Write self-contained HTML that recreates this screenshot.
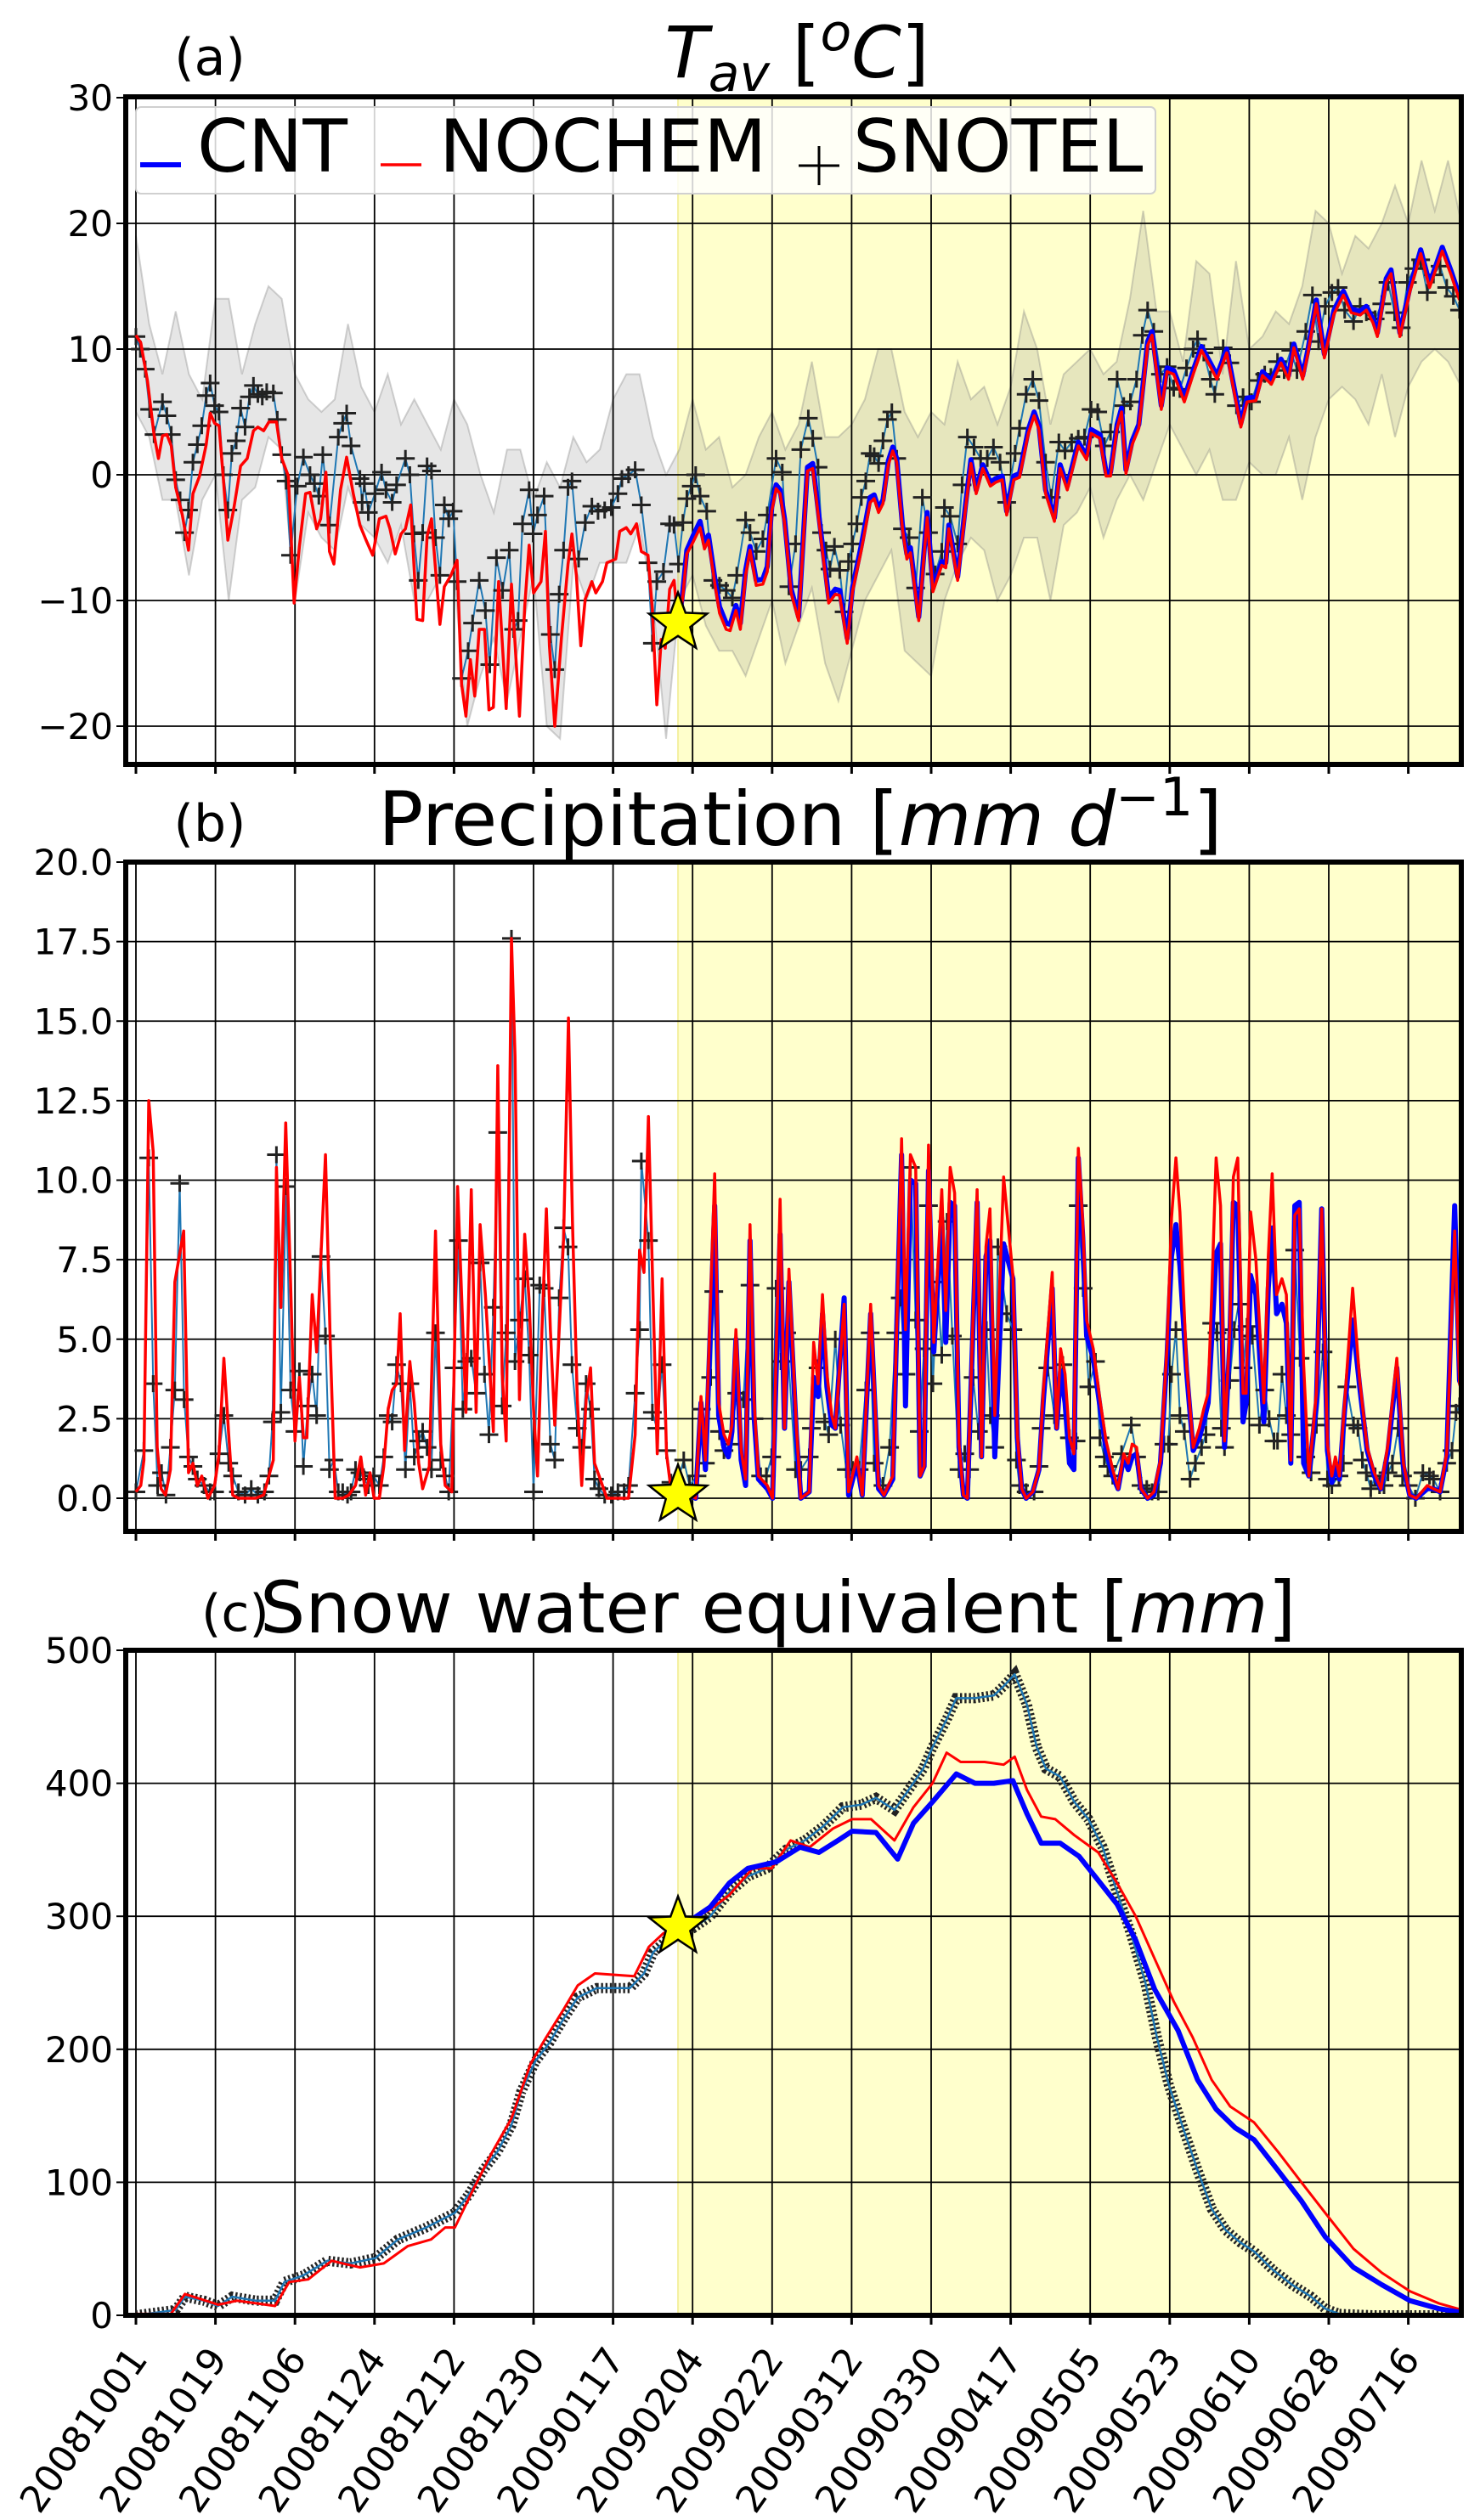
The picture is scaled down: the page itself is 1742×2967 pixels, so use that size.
<!DOCTYPE html>
<html><head><meta charset="utf-8"><style>
html,body{margin:0;padding:0;background:#fff;}
svg{display:block;font-family:"DejaVu Sans","Liberation Sans",sans-serif;}
</style></head><body>
<svg id="fig" xmlns="http://www.w3.org/2000/svg" width="1742" height="2967" viewBox="0 0 1742 2967"></svg>
<script>
// ---------- data (day index since 2008-10-01) ----------
const tickDays = [0,18,36,54,72,90,108,126,144,162,180,198,216,234,252,270,288];
const tickLabels = ["20081001","20081019","20081106","20081124","20081212","20081230","20090117","20090204","20090222","20090312","20090330","20090417","20090505","20090523","20090610","20090628","20090716"];
const shadeStartDay = 122.7;
const starDay = 122.7;
const starT = -11.8, starP = 0.1, starSWE = 292;

const tTicks = [30,20,10,0,-10,-20];
const pTicks = [20,17.5,15,12.5,10,7.5,5,2.5,0];
const sTicks = [500,400,300,200,100,0];

// T SNOTEL
const tSnoDay = [0,1,2.1,3.1,4.1,6,7,8,9,10,11,11.9,12.9,13.9,14.9,15.9,16.8,17.8,18.8,19.8,20.8,21.7,22.7,23.7,24.7,25.7,26.6,27.6,28.6,29.6,31.1,32,33,34,35,36.5,37.9,39.4,40.4,41.4,42.3,43.8,45.8,46.8,47.7,48.7,50.7,51.2,51.7,52.6,54.1,55.6,56.6,58,59,61,62,62.9,63.9,64.9,65.9,66.9,67.8,68.8,69.8,70.8,71.8,72.7,73.7,75.2,76.2,77.7,79.1,80.1,81.6,83,84.5,85.5,86.5,87.5,89,89.9,90.9,92.4,93.8,94.8,95.8,96.8,97.8,98.7,100.2,101.7,103.2,104.6,106.1,107.6,109.1,110,111.5,113,114.4,115.9,116.9,117.9,119.4,120.8,121.8,122.8,123.8,124.7,125.7,126.7,127.7,129.2,130.6,132.1,133.6,135,136,138,139,140.4,141.9,142.9,144.9,146.3,147.8,149.3,150.5,152.2,153.2,154.4,155.2,156.2,157.1,158.1,159.3,160.3,161.3,162.2,163.2,164.2,165.2,166.2,167.1,168.1,169.1,170.1,171.1,172.2,173.5,175,176.5,178,179.4,180.9,182.4,183,184.3,186,187,188.2,189.7,191.2,192.7,194.1,195.6,197.1,199,200,201.5,203,204.4,205.9,207.2,208.9,210.3,211.8,213.3,214.7,216.2,217.7,219.2,220.6,222.1,223.6,225.1,226.5,227.8,229,230.4,231.9,233.4,234.9,236.3,237.8,239.3,240.3,241.7,243.2,244.2,246.1,247.6,249.1,250.6,252.5,254,255.5,256.9,258.4,259.9,261.4,262.8,264.8,266.3,267.7,269.2,270.7,272.1,273.6,275.6,277.1,278.5,280.5,282,283.4,284.9,286.4,287.8,289.3,290.8,292.3,293.7,295.2,296.7,298.2,299.6];
const tSnoVal = [11,10,8.4,5.2,3.2,5.8,4.7,3.2,-0.4,-2,-4.6,-2.8,1,2.4,3.9,6.3,7.3,5.5,5,0,-2.8,1.7,2.7,5.3,3.8,6.2,7.1,6.4,6.2,6.6,6.5,4.4,1.6,-0.5,-6.4,-0.9,1.4,0,-0.7,-1.7,1.6,-4,3,4.1,4.9,2.3,-0.3,-2.2,-0.7,-3,-1.5,0.2,-1.2,-2.2,-0.8,1.3,0,-4.7,-8.4,-4.6,0.7,0.3,-5,-8,-2.4,-3.5,-2.9,-8.5,-16.2,-14,-11.8,-8.4,-10.8,-15.1,-6.6,-9.2,-6,-12.3,-11.6,-3.9,-1.2,-4.7,-3.2,-1.7,-12.7,-15.5,-9.5,-6,-1,-0.5,-6.7,-3.8,-2.5,-2.9,-2.8,-2.6,-1.5,-0.3,0,0.4,-2.4,-7,-13.4,-8.5,-7.7,-3.9,-4,-7.1,-3.8,-1.9,-0.9,0,-1.7,-2.9,-8.4,-8.8,-9.2,-9.8,-8,-3.6,-4.6,-6.1,-5.1,-3.2,1.3,0.2,-8.9,-5.5,2,4.5,2.9,0.6,-4.6,-6,-7.5,-5.7,-7.6,-10.9,-6.9,-5.5,-3.9,-1.8,-0.5,1.7,1.5,0.9,2.7,4.4,5,1.3,-4.3,-5,-9,-1.8,-4.6,-7.9,-6.1,-2.6,-3.3,-5.5,-0.8,3,2.2,1.3,1.3,2.2,1,-2.2,1.7,3.7,6.4,7.6,5.9,1,-1.8,2.6,1.9,2.6,2.9,3,5.2,5,2.3,3.4,7.6,5.5,5.8,7.6,11.1,13.1,11.4,8,8.6,6.9,6.8,8.5,10,10.8,9.7,7.6,6.4,10.1,8.9,5.5,6.2,5.8,7.5,8,7.8,9,8.3,9.9,8.3,11.4,14.3,10.6,13.4,14.5,14.9,13.1,12.2,13.4,12.9,12.4,13.6,15.3,12.9,11.7,15.3,16.4,17.1,14.5,15.9,16.6,14.9,14.2,13.1];

// T NOCHEM (red)
const tNoDay = [0,1.1,2.6,4.1,5.1,6,7,8,9,10.5,11.9,12.9,14.4,15.9,16.8,17.8,18.8,19.8,20.8,22.2,23.7,25.2,26.6,27.6,28.9,30.1,31.8,33,34.5,35.8,37,38.4,39.4,40.9,41.8,43,43.8,44.8,46.3,47.7,49.2,50.7,52.1,53.6,55.1,56.6,57.5,58.7,60,61,62.2,63.6,64.9,65.9,66.9,68.8,69.8,71.3,72.7,73.7,74.7,75.7,76.7,77.7,78.9,79.9,80.9,82.1,83.8,85,86.8,88,89,90,91.7,92.7,93.6,94.8,96.3,97.8,98.7,99.7,100.7,101.7,103.2,104.1,105.6,106.6,108.6,109.5,111,112,113.3,114.4,115.9,116.9,117.9,118.9,119.8,120.8,121.8,122.8,123.8,124.7,126.2,127.7,128.7,129.6,131.1,132.1,133.6,134.5,135.8,136.8,138,139,140.4,141.9,142.9,143.9,144.9,145.8,146.8,148.3,150,152,153.2,154.9,156.8,158.3,159.3,161,162.2,164.2,166.2,167.1,168.1,169.1,170.3,171.3,172.2,173.5,174.5,175.3,177.2,179.1,180.4,182.4,183.3,184,186,187.8,189,190.2,191.7,193.4,194.6,196.1,197.1,198.7,200,202,203.3,204.4,205.9,207.9,209.2,210.8,213.3,215.2,216.2,218.2,219.6,220.6,222.1,223.1,224.1,225.5,227,229,230,232.1,233.4,234.9,237.3,239.3,241.2,243.2,244.7,246.9,248.1,250.1,251.5,253.5,255,257,259.2,260.9,262.1,264.1,265.3,267.2,269,271.2,273.3,275.1,277.1,278.5,280,281,283,284.1,286.1,288.3,290.8,292.8,295.7,297.7,299.6];
const tNoVal = [11.1,10.5,7.5,3.2,1.3,3.1,3.2,2.3,-1,-3.2,-6,-1.5,-0.1,2.4,4.9,4.1,3.9,-0.4,-5.2,-2.6,0.7,1.3,3.5,3.8,3.5,4.2,4.2,1.3,-0.1,-10.2,-5.7,-1.5,-1.4,-4.3,-3.5,0.2,-6.1,-7.1,-1.2,1.4,-1.5,-4,-5.2,-6.4,-3.5,-3.3,-4.3,-6.3,-4.7,-4.3,-2.4,-11.5,-11.6,-4.9,-3.5,-11.9,-8.9,-8,-6.8,-16.6,-19.2,-14.7,-17.6,-12.3,-12.3,-18.7,-18.5,-8.5,-18.6,-8.7,-19.2,-10.5,-5.6,-9.4,-8.5,-4.5,-13.6,-20,-13,-7.1,-4.7,-8,-13.6,-9.9,-8.5,-9.4,-8.5,-7,-6.7,-4.5,-4.2,-4.7,-3.9,-6.1,-6.4,-10.8,-18.3,-13.1,-13.8,-9.1,-8.4,-12.3,-9.6,-6.3,-5.3,-4.2,-5.9,-5.2,-8.8,-11,-12.3,-12.4,-10.8,-12.3,-8,-6,-8.8,-8.7,-7.7,-2.9,-1.1,-1.5,-3.8,-9.4,-11.6,0.3,0.5,-4.6,-10.2,-9.5,-9.6,-13.4,-9.3,-6,-2.2,-1.9,-3,-2.3,0.8,1.9,1,-4.3,-6.7,-6.2,-11.6,-3.4,-9.3,-7.2,-7.4,-4.3,-8.4,-2.6,0.9,-1.5,0.5,-0.9,-0.6,-0.4,-3.2,-0.4,-0.2,3.3,4.7,3.6,-1.5,-3.7,0.5,-1.2,2.3,1.2,3.3,2.9,-0.1,-0.1,3.7,5,0.1,2.4,3.7,10.3,11.1,5.2,8.2,8,5.8,8,9.9,8.6,7.6,9.7,7.5,3.8,5.8,5.9,7.9,7.2,8.9,7.6,10.1,7.6,9.7,13.6,9.3,12.8,14.3,12.9,12.7,13.1,12.1,11,15.3,16,11,14.5,17.6,14.9,17.8,15.9,13.9];

// T CNT (blue), from the assimilation start
const tCntDay = [122.8,123.8,124.7,126.2,127.7,128.7,129.6,131.1,132.1,133.6,134.5,135.8,136.8,138,139,140.4,141.9,142.9,143.9,144.9,145.8,146.8,148.3,150,152,153.2,154.9,156.8,158.3,159.3,161,162.2,164.2,166.2,167.1,168.1,169.1,170.3,171.3,172.2,173.5,174.5,175.3,177.2,179.1,180.4,182.4,183.3,184,186,187.8,189,190.2,191.7,193.4,194.6,196.1,197.1,198.7,200,202,203.3,204.4,205.9,207.9,209.2,210.8,213.3,215.2,216.2,218.2,219.6,220.6,222.1,223.1,224.1,225.5,227,229,230,232.1,233.4,234.9,237.3,239.3,241.2,243.2,244.7,246.9,248.1,250.1,251.5,253.5,255,257,259.2,260.9,262.1,264.1,265.3,267.2,269,271.2,273.3,275.1,277.1,278.5,280,281,283,284.1,286.1,288.3,290.8,292.8,295.7,297.7,299.6];
const tCntVal = [-12.1,-9.2,-6,-4.8,-3.7,-5.5,-4.8,-8.4,-10.5,-11.8,-11.9,-10.4,-11.8,-7.6,-5.7,-8.4,-8.3,-7.3,-2.6,-0.8,-1.2,-3.5,-9.1,-11.3,0.6,0.9,-4.2,-9.8,-9.1,-9.2,-13,-9,-5.6,-1.8,-1.6,-2.7,-2,1.1,2.2,1.3,-4,-6.3,-5.8,-11.3,-3,-9,-6.9,-7,-4,-8.1,-2.3,1.2,-1.2,0.8,-0.6,-0.3,-0.1,-2.9,-0.1,0.1,3.6,5,3.9,-1.2,-3.4,0.8,-0.9,2.6,1.5,3.6,3.2,0.2,0.2,4,5.3,0.4,2.7,4,10.6,11.4,5.5,8.5,8.3,6.1,8.3,10.2,8.9,7.9,10,7.8,4.1,6.1,6.2,8.2,7.5,9.2,7.9,10.4,7.9,10,13.9,9.6,13.1,14.6,13.2,13,13.4,12.4,11.3,15.6,16.3,11.3,14.8,17.9,15.2,18.1,16.2,14.2];

// T ensemble envelope
const bandDay = [0,3,6,9,12,15,18,21,24,27,30,33,36,39,42,45,48,51,54,57,60,63,66,69,72,75,78,81,84,87,90,93,96,99,102,105,108,111,114,117,120,123,126,129,132,135,138,141,144,147,150,153,156,159,162,165,168,171,174,177,180,183,186,189,192,195,198,201,204,207,210,213,216,219,222,225,228,231,234,237,240,243,246,249,252,255,258,261,264,267,270,273,276,279,282,285,288,291,294,297,300];
const bandHi = [19,12,8,13,8,6,14,14,8,12,15,14,8,6,5,6,12,7,5,8,4,6,4,2,6,4,0,-3,2,2,-2,1,-1,3,1,2,6,8,8,3,0,2,6,2,3,-1,0,3,5,2,4,9,3,3,4,6,10,10,5,3,5,4,9,6,7,4,7,13,10,4,8,9,10,8,9,14,21,13,13,9,17,16,8,17,10,11,13,12,15,21,20,16,19,18,20,23,20,25,21,25,20];
const bandLo = [5,3,-2,-2,-8,-2,0,-10,-2,-1,3,2,-10,-3,-5,-6,-1,-4,-5,-7,-4,-10,-10,-8,-8,-20,-16,-13,-18,-13,-8,-20,-21,-7,-10,-7,-7,-7,-4,-10,-21,-10,-8,-12,-14,-14,-16,-13,-10,-15,-12,-9,-15,-18,-14,-10,-8,-6,-14,-15,-16,-10,-7,-5,-6,-10,-8,-5,-5,-10,-4,-3,-1,-5,-2,0,-2,1,4,2,0,2,-2,-2,1,0,0,3,-2,3,6,7,6,4,8,3,7,9,10,9,7];

// Precipitation SNOTEL
const pSnoDay = [0,1.8,2.9,3.9,4.9,5.8,6.8,7.8,8.8,9.9,10.9,11.9,12.9,13.9,15.4,16.8,17.8,18.8,19.9,21,21.9,23.2,24.7,26.1,27.6,29.1,30.1,30.9,31.8,32.8,34,35,36,37,37.9,38.9,39.9,40.9,41.9,42.9,43.8,44.8,45.8,46.8,47.9,48.7,49.7,50.7,51.7,52.6,53.8,55.1,56.1,57.1,58,59,60,61,62,63,64,64.9,65.9,66.9,67.8,69,70,70.8,72,73,74,74.9,75.9,77,77.9,78.9,79.9,80.9,81.9,82.9,83.8,85,85.8,86.8,88,89,90,91.4,92.4,93.8,94.8,95.8,96.8,97.8,98.7,99.9,100.9,101.9,102.9,103.8,104.8,106.1,107.6,109.1,110.5,111.5,113,114,114.4,116,116.9,117.9,119.1,120.1,121.1,122.3,124,125.3,127,128,128.9,130.1,130.8,132.1,133.1,134.5,136,137.5,139,139.9,141.4,142.7,143.9,144.9,146,147.3,149.3,150.5,152.4,152.9,154.4,155.9,156.8,158.3,159.5,160.8,162.2,163.7,165.2,166.2,167.1,169.1,170.6,172,173,174.3,175.3,176.5,177.3,178.4,179.4,180.4,181.4,182.4,183.6,184.8,186.3,187.6,188.7,189.5,190.7,192.5,193.4,194.4,195.1,197.1,198.5,199.3,200,201.5,203.3,204.4,204.9,206.4,207.9,209.8,211.3,212.8,213.3,214.4,215.7,217.2,218.2,219.2,220,221.1,223.1,225.3,226.5,227.5,228.8,230,231.4,232.7,233.7,234.4,235.4,236.3,237.3,238.6,239.8,241.2,242.2,243.5,244.7,245.7,246.4,247.6,248.6,249.6,250.6,251.5,252.7,254.3,255.5,256.5,257.6,258.4,259.4,260.4,261.4,262.3,263.5,264.8,266,267.2,268.7,269.7,270.7,272.3,273.3,274.1,275.6,276.6,277.6,278.5,279.5,280.5,281.5,282.5,283.4,284.4,285.7,286.7,288,289.6,291.3,292.8,293.7,295.2,296.7,297.9,298.8,299.6];
const pSnoVal = [0.2,1.5,10.7,3.6,0.4,0.8,0.1,1.6,3.4,9.9,3.1,1.3,1,0.6,0.4,0.2,0.2,1.4,2.6,1.1,0.7,0.2,0.1,0.3,0.1,0.2,0.7,2.4,10.8,2.7,9.8,3.4,2.1,4,1,2.9,3.9,2.6,7.6,5.1,0.9,1.2,0.2,0.2,0.1,0.2,0.9,0.8,0.6,0.4,0.7,0.4,1.3,2.6,2.4,4.2,3.6,0.9,3.6,1.3,1.8,2.1,1.6,0.9,5.2,1.2,0.7,0.2,4.1,8.1,2.8,4.3,4.4,3.3,7.4,3.9,2,6,11.5,2.9,5.2,17.6,4.3,5.6,6.9,4.5,0.2,6.7,6.6,1.7,1.2,6.3,8.5,7.9,4.2,2.2,1.6,3.6,2.8,0.6,0.3,0.1,0.1,0.2,0.2,0.4,3.3,5.3,10.6,8.1,2.7,2.2,4.2,1.5,0.5,0.4,1.2,0.4,0.7,2.8,1.1,3.8,6.5,2.1,1.5,1.7,3.3,3.1,6.7,2.5,0.7,0.7,1.3,6.6,4.3,5.2,0.9,0.9,1.3,2.2,4.1,2.4,2,5,2.3,0.9,0.9,0.9,3.4,5.2,1.1,0.4,1.6,5.2,6.3,3.9,10.4,5.6,2.1,4.7,9.2,3.6,6.8,4.5,8.7,5.1,0.9,1.4,0.9,3.8,2.1,5.3,2.6,1.6,7.9,5.8,5.3,1.2,0.4,0.2,0.2,1,2.2,4.1,2.6,4.2,1.9,1.8,9.2,6.6,3.5,4.3,1.9,1.3,1,0.7,1.4,2.3,1.3,0.4,0.3,0.2,0.2,1.7,1.7,3.9,5.3,2.6,2.1,0.6,1.1,1.6,2,5.5,5.2,2.2,1.6,3.7,5.3,6.1,4.1,5.4,5.1,2.3,3.4,2.5,1.8,1.8,3.9,2.6,2,7.8,4.4,1.3,0.8,2.3,4.6,0.6,0.4,0.7,1.1,3.5,2.3,2.2,1.2,0.8,0.3,0.7,0.4,0.4,0.8,1.1,2.2,0.7,0.4,0,0.8,0.7,0.6,0.2,1.1,1.5,2.7,2.9];

// Precipitation NOCHEM (red)
const pNoDay = [0,1.1,1.8,2.9,3.9,4.8,5.7,6.7,7.8,8.8,9.8,10.8,11.9,12.9,13.9,14.9,16.3,17.8,18.8,19.9,21,21.9,23.2,27.1,28.9,30.1,31.1,31.8,32.8,33.9,35,36,37,37.9,38.7,39.9,40.9,42.9,44,45.1,46.8,48.2,49.7,50.9,52,53,53.9,55.1,56.1,57.1,58,59,59.8,60.8,62,63,64,64.9,66.4,67.8,69,70,71.5,72.8,74.7,75.9,77,77.9,79.1,80.9,81.9,82.9,83.8,85,85.8,86.8,88,89,90,90.9,91.9,92.9,93.8,94.8,95.8,96.8,97.9,98.8,99.9,100.9,101.9,102.9,103.8,105.1,106.6,111.5,113,114,115,116,116.9,118,119.1,120.1,121.1,121.8,124.3,126.7,127.9,128.9,131,131.9,133.1,134.1,134.9,135.8,137,138,139,139.9,140.9,142.9,144.1,145.8,146.8,147.8,149.5,150.5,152.4,153.4,154.4,155.4,156.4,157.5,158.3,160.3,161.3,163.2,164.4,166.3,168.1,169.3,171.3,172.2,173.3,174.2,175.3,176.5,177.5,178.4,179.4,180.6,182.4,183.3,184.3,185.3,186.3,187.3,188.2,190.4,191.4,192.4,193.3,194.4,196.4,198.5,199.5,200.5,201.5,203,204.4,205.4,207.4,208.4,209.3,210.3,211.3,212.3,213.3,214.3,215.2,216.7,218.2,219.6,221.1,222.3,223.6,224.6,225.5,226.5,227.5,229,230.4,231.9,233.4,234.4,235.4,236.3,237.8,239.3,240.7,241.7,242.7,243.5,244.5,245.5,246.4,247.6,248.4,249.4,250.6,251.3,252.3,253.5,255.3,256.3,257.2,258.2,259.4,260.4,261.4,262.3,263.3,264.3,265.5,267.2,268.4,269.7,270.7,271.5,272.4,273.6,275.4,277,278.7,280.3,281.8,283.4,285.4,286.9,288.3,289.8,292.3,293.7,295.2,296.7,298.5,299.6,300.4];
const pNoVal = [0.2,0.4,1.2,12.5,10.9,1.6,0.3,0.1,0.9,6.8,7.6,8.4,0.8,1.1,0.4,0.7,0,0.4,1.4,4.4,2,0.1,0,0,0.1,0.7,1.2,10.4,6,11.8,6.8,1.8,3.8,1.9,1.9,6.4,4.6,10.8,4.8,0,0,0.1,0.4,1.3,0.1,0.8,0,0,1,2.8,3.4,3.6,5.8,1.5,4.3,3,1.1,0.3,1,8.4,1.7,0.4,0.2,9.8,2.7,9.7,2.7,8.6,6.4,2.1,13.6,3.9,1.8,17.6,13.9,3.1,8.3,6.2,2.8,0.7,5.3,9.1,5.3,2.3,5.3,8.2,15.1,8.7,3.1,0.4,3.1,4.1,1.1,0.6,0,0,2,7.8,7.1,12,7.1,1.4,6.9,1.4,0.3,0,0.2,0,3.2,1.2,10.2,3,2,1.7,2.3,5.3,1.5,0.6,8.6,3.1,0.7,0.4,0,9.4,2.2,7.2,2.2,0,0.2,4.9,3.6,6.4,3.9,2.6,2.2,6.1,0.2,1.3,0.1,6.1,0.4,0.1,0.7,5.3,11.3,5.3,10.8,10.4,0.7,1,11.1,4.9,9.7,5.9,10.4,9.6,1.7,0.1,0,9.7,1.3,7.9,9.1,2.6,10.1,7,2,0.3,0,0.2,0.9,3.4,7.1,2.2,4.7,3.9,1.9,1.4,11,8.7,5.6,4.7,3.1,1.8,0.9,0.3,1.4,1.1,1.7,1.6,0.3,0,0.2,1.2,4.8,8.8,10.7,9,4.2,1.6,2.2,2.8,3.3,6.4,10.7,9.2,1.8,5.3,10.1,10.7,3.3,3.3,9,7.5,3,7.6,10.2,6.4,6.9,6.4,1.2,8.9,9.1,4.2,0.7,3.3,9.1,1.7,0.7,1.3,0.7,3,6.6,3.7,1.6,0.8,0.3,1.7,4.4,1.1,0.1,0,0.4,0.3,0.2,1.4,8.4,3.6,3.2];

// Precipitation CNT (blue)
const pCntDay = [122.3,124.3,126.7,127.9,128.9,131,131.9,133.1,134.1,134.9,135.8,137,138,139,139.9,140.9,142.9,144.1,145.8,146.8,147.8,149.5,150.5,152.4,153.4,154.4,155.4,156.4,157.5,158.3,160.3,161.3,163.2,164.4,166.3,168.1,169.3,171.3,172.2,173.3,174.2,175.3,176.5,177.5,178.4,179.4,180.6,182.4,183.3,184.3,185.3,186.3,187.3,188.2,190.4,191.4,192.4,193.3,194.4,196.4,198.5,199.5,200.5,201.5,203,204.4,205.4,207.4,208.4,209.3,210.3,211.3,212.3,213.3,214.3,215.2,216.7,218.2,219.6,221.1,222.3,223.6,224.6,225.5,226.5,227.5,229,230.4,231.9,233.4,234.4,235.4,236.3,237.8,239.3,240.7,241.7,242.7,243.5,244.5,245.5,246.4,247.6,248.4,249.4,250.6,251.3,252.3,253.5,255.3,256.3,257.2,258.2,259.4,260.4,261.4,262.3,263.3,264.3,265.5,267.2,268.4,269.7,270.7,271.5,272.4,273.6,275.4,277,278.7,280.3,281.8,283.4,285.4,286.9,288.3,289.8,292.3,293.7,295.2,296.7,298.5,299.6,300.4];
const pCntVal = [0,0.2,0,3,0.9,9.2,2.6,1.6,1.3,2.1,5,1.2,0.4,8.1,2.6,0.6,0.3,0,8.3,2.2,6.8,2,0,0.2,3.8,3.2,5.8,3.5,2.3,2.2,6.3,0.1,1.1,0.1,5.8,0.3,0.1,0.6,5.3,10.8,2.9,10,9.9,0.7,1,10.3,4.6,8.8,4.9,9.3,9.2,1.6,0.1,0,9.3,1.3,7.6,8.1,1.3,8,6.9,1.9,0.3,0,0.2,0.9,3.1,6.6,2.2,4,3,1.1,0.9,10.7,8.2,5.1,4.4,2.9,1.5,0.7,0.3,1.3,0.9,1.3,1.4,0.3,0,0.1,1.1,4.5,7.6,8.6,7.3,4,1.5,1.9,2.4,3,5,7.7,8,1.6,4.9,9.3,9.2,2.4,3,7,6.4,2.4,6.6,8.5,5.8,6.1,5.5,1.1,9.2,9.3,1.1,0.7,3,9.1,1.5,0.5,1,0.6,2.8,5.6,3.5,1.5,0.7,0.3,1.5,4.1,1,0.1,0,0.3,0.3,0.2,1.3,9.2,3.7,3.4];

// Snow water equivalent
const sSnoDay = [0,9,11.1,15.4,18.6,21.8,27.2,31.5,33.6,37.9,43.3,48.6,54.2,59.3,65.7,72.2,75.4,78.6,81.8,85,87.2,90.4,93.6,96.8,100,104.3,111.8,115,117.1,121.4,126.1,130,134.3,138.5,142.8,147.1,151.4,155.7,160,164.2,167.5,171.7,174.9,178.2,180.3,183.5,185.7,189.9,194.2,196.4,198.9,201.7,203.9,206,209.2,212.4,215.6,218.8,222.1,225.3,228.5,231.1,233.8,237,240.3,243.5,246.7,249.9,253.1,257.4,261.7,266,269.2,272.4,279.9,300.2];
const sSnoVal = [0,4,14,11,7,14,11,11,25,30,41,39,43,57,66,77,91,109,123,143,168,191,205,223,239,246,246,257,273,286,291,300,318,330,336,350,357,368,382,384,389,380,395,411,427,448,464,464,466,473,482,459,427,411,405,386,373,352,318,286,250,209,173,141,109,80,64,55,48,34,23,14,5,1,0,0];
const sNoDay = [0,7.9,11.1,18.6,22.9,31.5,34.7,39,44.3,50.7,56.1,61.5,66.8,70,72.2,76.4,80.7,85,89.3,92.5,96.8,100,103.9,112.8,116.1,119.3,123.6,130,134.3,139.6,143.9,148.2,152.5,157.8,162.1,166.4,171.7,176,180.3,183.5,186.7,192.1,196.4,198.9,201.7,204.9,208.1,212.4,217.8,222.1,226.3,230.6,234.9,239.2,243.5,247.7,253.1,258.5,263.8,269.2,275.6,282,288.4,294.9,300.2];
const sNoVal = [1,1,16,8,11,7,25,27,41,36,39,52,57,66,66,95,123,148,189,207,230,248,257,255,277,287,295,305,316,336,336,357,352,366,373,373,357,382,400,423,416,416,414,420,395,375,373,361,348,325,300,268,236,209,177,157,145,123,100,77,50,32,18,9,4];
const sCntDay = [122.9,130,134.3,138.5,145,150.3,154.6,158.9,162.1,167.5,172.4,176,180.3,185.7,189.9,194.2,198.5,201.7,204.9,209.2,213.5,217.8,222.1,226.3,230.6,235.9,240.3,244.5,248.8,253.1,258.5,263.8,269.2,275.6,282,288.4,294.9,300.2];
const sCntVal = [291,307,325,336,341,352,348,357,364,363,343,370,386,407,400,400,402,377,355,355,345,327,309,282,245,214,177,155,141,132,109,86,59,36,23,11,5,2];
</script>
<script>
const NS = "http://www.w3.org/2000/svg";
const svg = document.getElementById('fig');
const X0 = 148, X1 = 1720;
function xd(d){ return 160 + d*5.2; }
function mk(tag, attrs, parent){
  const e = document.createElementNS(NS, tag);
  for (const k in attrs) e.setAttribute(k, attrs[k]);
  (parent||svg).appendChild(e);
  return e;
}
function pathFrom(days, vals, ys){
  let s = '';
  for (let i=0;i<days.length;i++){ s += (i?'L':'M') + xd(days[i]).toFixed(1) + ',' + ys(vals[i]).toFixed(1); }
  return s;
}
function starPath(cx, cy, R){
  const r = R*0.42; let s='';
  for (let i=0;i<10;i++){
    const a = -Math.PI/2 + i*Math.PI/5, rr = (i%2)?r:R;
    s += (i?'L':'M') + (cx+rr*Math.cos(a)).toFixed(1) + ',' + (cy+rr*Math.sin(a)).toFixed(1);
  }
  return s + 'Z';
}

function panel(opts){
  const {name, top, bottom, ys, yTicks, fmt} = opts;
  const g = mk('g', {});
  
  
  const cid = 'clip-' + name;
  const cp = mk('clipPath', {id: cid}, g);
  mk('rect', {x: X0, y: top, width: X1-X0, height: bottom-top}, cp);
  const sh = mk('rect', {x: xd(shadeStartDay), y: top, width: X1 - xd(shadeStartDay), height: bottom-top, fill: '#ffffcc', stroke: '#f4f0a0', 'stroke-width': 2}, g);
  
  
  const plot = mk('g', {'clip-path': 'url(#' + cid + ')'}, g);
  if (opts.before) opts.before(plot);
  const grid = mk('g', {stroke: '#000', 'stroke-width': 1.8}, plot);
  
  
  tickDays.forEach(d => mk('line', {x1: xd(d), x2: xd(d), y1: top, y2: bottom}, grid));
  yTicks.forEach(v => mk('line', {x1: X0, x2: X1, y1: ys(v), y2: ys(v)}, grid));
  if (opts.draw) opts.draw(plot);
  const sp = mk('rect', {x: X0, y: top, width: X1-X0, height: bottom-top, fill: 'none', stroke: '#000', 'stroke-width': 6}, g);
  
  
  const yt = mk('g', {}, g);
  
  
  yTicks.forEach(v => {
    mk('line', {x1: X0-11, x2: X0, y1: ys(v), y2: ys(v), stroke: '#000', 'stroke-width': 2}, yt);
    const t = mk('text', {x: 133, y: ys(v) + 15, 'text-anchor': 'end', 'font-size': 42, fill: '#000'}, yt);
    t.textContent = fmt(v);
    
    
  });
  const xt = mk('g', {}, g);
  
  
  tickDays.forEach((d,i) => {
    mk('line', {x1: xd(d), x2: xd(d), y1: bottom, y2: bottom+11, stroke: '#000', 'stroke-width': 3}, xt);
    if (opts.xlabels){
      const t = mk('text', {transform: 'translate(' + (xd(d)+15) + ',2778) rotate(-55)', 'text-anchor': 'end', 'font-size': 44, fill: '#000'}, xt);
      t.textContent = tickLabels[i];
      
      
    }
  });
  return plot;
}
function snotelMarkers(parent, days, vals, ys){
  const g = mk('g', {stroke: '#222', 'stroke-width': 3}, parent);
  
  
  for (let i=0;i<days.length;i++){
    const x = xd(days[i]), y = ys(vals[i]);
    mk('path', {d: 'M'+(x-11)+','+y+'H'+(x+11)+'M'+x+','+(y-10)+'V'+(y+10)}, g);
  }
}
function line(parent, d, color, w, name){
  const p = mk('path', {d: d, fill: 'none', stroke: color, 'stroke-width': w, 'stroke-linejoin': 'round'}, parent);
  
  
  return p;
}
function star(parent, cx, cy){
  const s = mk('path', {d: starPath(cx, cy, 36), fill: '#ffff00', stroke: '#000', 'stroke-width': 2.5}, parent);
  
  
}

// ---------- Panel (a) temperature ----------
const yT = v => 559 - v*14.8;
panel({name: 'panel-a-temperature', top: 114, bottom: 900, ys: yT, yTicks: tTicks, fmt: v => v<0 ? '\u2212'+(-v) : ''+v,
  before: plot => {
    let up = pathFrom(bandDay, bandHi, yT);
    let lo = '';
    for (let i=bandDay.length-1;i>=0;i--) lo += 'L' + xd(bandDay[i]).toFixed(1) + ',' + yT(bandLo[i]).toFixed(1);
    const b = mk('path', {d: up + lo + 'Z', fill: 'rgba(128,128,128,0.2)', stroke: 'rgba(128,128,128,0.35)', 'stroke-width': 2}, plot);
    
    
  },
  draw: plot => {
    line(plot, pathFrom(tSnoDay, tSnoVal, yT), '#1f77b4', 2, 'snotel-temperature-line');
    snotelMarkers(plot, tSnoDay, tSnoVal, yT);
    line(plot, pathFrom(tCntDay, tCntVal, yT), '#0000ff', 6, 'cnt-temperature-line');
    line(plot, pathFrom(tNoDay, tNoVal, yT), '#ff0000', 3.5, 'nochem-temperature-line');
    star(plot, xd(starDay), yT(starT));
  }});

// ---------- Panel (b) precipitation ----------
const yP = v => 1764 - v*37.45;
panel({name: 'panel-b-precipitation', top: 1015, bottom: 1803, ys: yP, yTicks: pTicks, fmt: v => v.toFixed(1),
  draw: plot => {
    line(plot, pathFrom(pSnoDay, pSnoVal, yP), '#1f77b4', 2, 'snotel-precip-line');
    snotelMarkers(plot, pSnoDay, pSnoVal, yP);
    line(plot, pathFrom(pCntDay, pCntVal, yP), '#0000ff', 6, 'cnt-precip-line');
    line(plot, pathFrom(pNoDay, pNoVal, yP), '#ff0000', 3.5, 'nochem-precip-line');
    star(plot, xd(starDay), yP(starP));
  }});

// ---------- Panel (c) SWE ----------
const yS = v => 2726 - v*1.566;
panel({name: 'panel-c-swe', top: 1943, bottom: 2726, ys: yS, yTicks: sTicks, fmt: v => ''+v, xlabels: true,
  draw: plot => {
    const dp = pathFrom(sSnoDay, sSnoVal, yS);
    const dense = mk('path', {d: dp, fill: 'none', stroke: '#222', 'stroke-width': 12, 'stroke-dasharray': '2.4 2.8'}, plot);
    
    
    line(plot, dp, '#1f77b4', 2.5, 'snotel-swe-line');
    line(plot, pathFrom(sNoDay, sNoVal, yS), '#ff0000', 3, 'nochem-swe-line');
    line(plot, pathFrom(sCntDay, sCntVal, yS), '#0000ff', 6, 'cnt-swe-line');
    star(plot, xd(starDay), yS(starSWE));
  }});

// ---------- legend ----------
const lg = mk('g', {});


mk('rect', {x: 160, y: 126, width: 1200, height: 102, rx: 6, fill: 'rgba(255,255,255,0.82)', stroke: '#d0d0d0', 'stroke-width': 2}, lg);
const legItems = [
  {name: 'legend-entry-cnt', color: '#0000ff', w: 6, x: 165, tx: 232, label: 'CNT'},
  {name: 'legend-entry-nochem', color: '#ff0000', w: 3.5, x: 448, tx: 517, label: 'NOCHEM'}
];
legItems.forEach(it => {
  const g = mk('g', {}, lg);
  
  
  mk('line', {x1: it.x, x2: it.x+48, y1: 194, y2: 194, stroke: it.color, 'stroke-width': it.w}, g);
  const t = mk('text', {x: it.tx, y: 202, 'font-size': 86, fill: '#000'}, g);
  t.textContent = it.label;
});
const gs = mk('g', {}, lg);


mk('path', {d: 'M940,195H988M964,172V218', stroke: '#000', 'stroke-width': 3}, gs);
const ts = mk('text', {x: 1004, y: 202, 'font-size': 86, fill: '#000'}, gs);
ts.textContent = 'SNOTEL';

// ---------- titles ----------
function txt(x, y, size, content, name, anchor){
  const t = mk('text', {x: x, y: y, 'font-size': size, fill: '#000', 'text-anchor': anchor||'start'});
  t.innerHTML = content;
  
  
  return t;
}
txt(247, 88, 60, '(a)', 'panel-a-label', 'middle');
txt(938, 91, 84, '<tspan font-style="italic">T</tspan><tspan font-style="italic" font-size="60" dy="16">av</tspan><tspan dy="-16"> [</tspan><tspan font-style="italic" font-size="60" dy="-32">o</tspan><tspan font-style="italic" dy="32">C</tspan>]', 'panel-a-title', 'middle');
txt(247, 990, 60, '(b)', 'panel-b-label', 'middle');
txt(942, 995, 88, 'Precipitation [<tspan font-style="italic">mm d</tspan><tspan font-size="62" dy="-35">\u2212</tspan><tspan font-size="62">1</tspan><tspan dy="35">]</tspan>', 'panel-b-title', 'middle');
txt(237, 1920, 60, '(c)', 'panel-c-label');
txt(306, 1922, 84, 'Snow water equivalent [<tspan font-style="italic">mm</tspan>]', 'panel-c-title');
</script>
</body></html>
